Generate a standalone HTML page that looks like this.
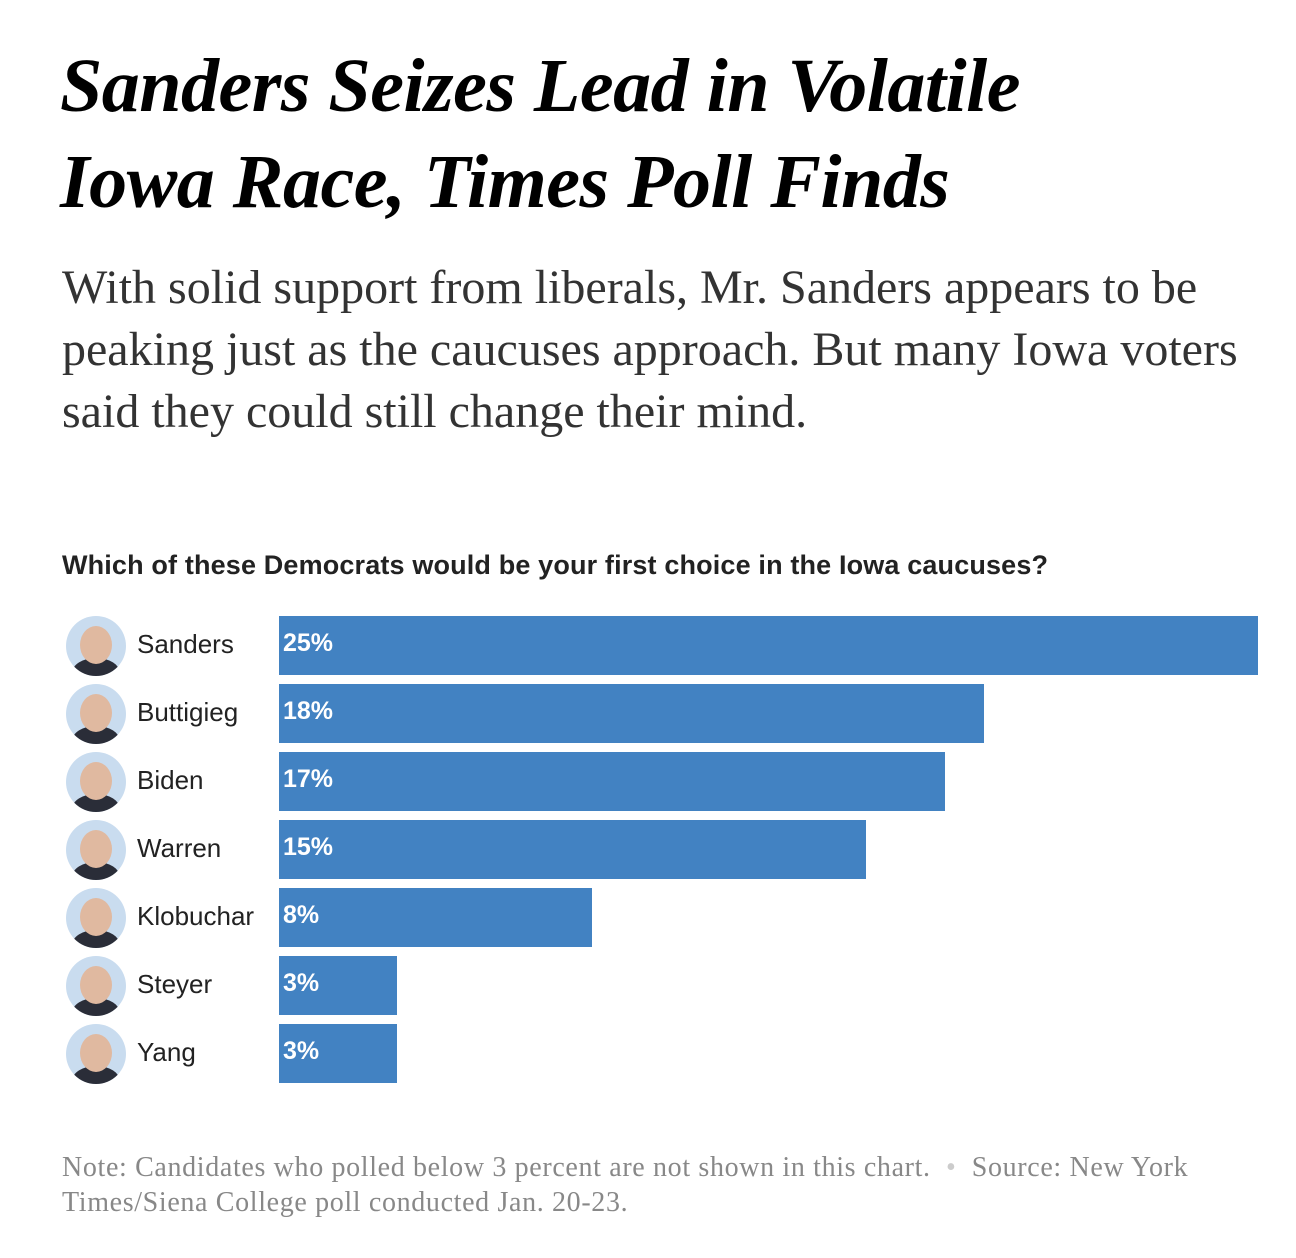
<!DOCTYPE html>
<html><head><meta charset="utf-8"><style>
body{margin:0;width:1296px;height:1258px;background:#fff;position:relative;overflow:hidden}
.t{position:absolute;left:60px;top:38px;font-family:"Liberation Serif",serif;font-weight:bold;font-style:italic;font-size:76px;line-height:96px;color:#000;letter-spacing:-0.5px;margin:0;white-space:nowrap}
.s{position:absolute;left:62px;top:257px;font-family:"Liberation Serif",serif;font-size:48px;line-height:62px;color:#333;white-space:nowrap}
.q{position:absolute;left:62px;top:550px;font-family:"Liberation Sans",sans-serif;font-weight:bold;font-size:27px;letter-spacing:0.15px;color:#222}
.row{position:absolute;left:0;height:59px;width:1296px}
.av{position:absolute;left:66px;top:0;width:60px;height:60px;border-radius:50%;background:#c9dcef;overflow:hidden}
.av:after{content:"";position:absolute;left:14px;top:10px;width:32px;height:38px;border-radius:50%;background:#e0b9a0}
.av:before{content:"";position:absolute;left:6px;top:42px;width:48px;height:30px;border-radius:50%;background:#2a2d38}
.nm{position:absolute;left:137px;top:13px;font-family:"Liberation Sans",sans-serif;font-size:26px;color:#222}
.bar{position:absolute;left:279px;top:0;height:59px;background:#4282c2}
.bar span{position:absolute;left:4px;top:13px;font-family:"Liberation Sans",sans-serif;font-weight:bold;font-size:25px;color:#fff}
.n{position:absolute;left:62px;top:1150px;font-family:"Liberation Serif",serif;font-size:28px;letter-spacing:0.65px;line-height:35px;color:#888;white-space:nowrap}
</style></head><body>
<h1 class="t">Sanders Seizes Lead in Volatile<br>Iowa Race, Times Poll Finds</h1>
<div class="s">With solid support from liberals, Mr. Sanders appears to be<br>peaking just as the caucuses approach. But many Iowa voters<br>said they could still change their mind.</div>
<div class="q">Which of these Democrats would be your first choice in the Iowa caucuses?</div>
<div class="row" style="top:616px"><div class="av"></div><div class="nm">Sanders</div><div class="bar" style="width:979px"><span>25%</span></div></div>
<div class="row" style="top:684px"><div class="av"></div><div class="nm">Buttigieg</div><div class="bar" style="width:705px"><span>18%</span></div></div>
<div class="row" style="top:752px"><div class="av"></div><div class="nm">Biden</div><div class="bar" style="width:666px"><span>17%</span></div></div>
<div class="row" style="top:820px"><div class="av"></div><div class="nm">Warren</div><div class="bar" style="width:587px"><span>15%</span></div></div>
<div class="row" style="top:888px"><div class="av"></div><div class="nm">Klobuchar</div><div class="bar" style="width:313px"><span>8%</span></div></div>
<div class="row" style="top:956px"><div class="av"></div><div class="nm">Steyer</div><div class="bar" style="width:118px"><span>3%</span></div></div>
<div class="row" style="top:1024px"><div class="av"></div><div class="nm">Yang</div><div class="bar" style="width:118px"><span>3%</span></div></div>
<div class="n">Note: Candidates who polled below 3 percent are not shown in this chart. &nbsp;<span style="color:#ccc">•</span>&nbsp; Source: New York<br>Times/Siena College poll conducted Jan. 20-23.</div>
</body></html>
